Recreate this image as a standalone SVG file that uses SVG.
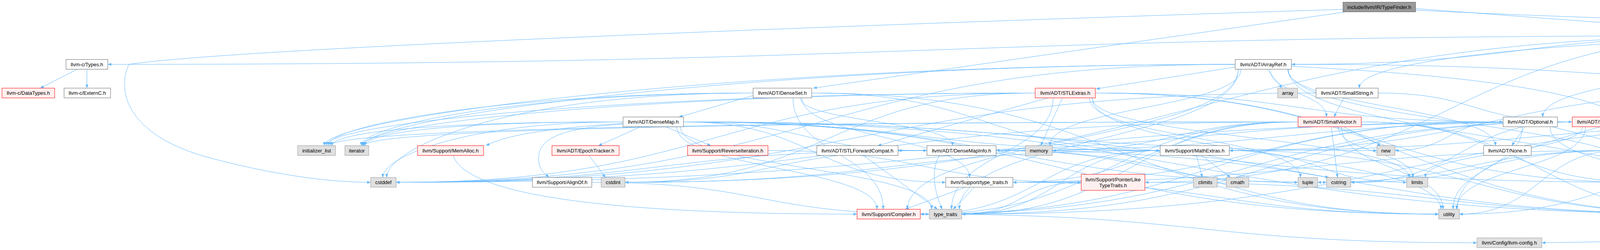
<svg xmlns="http://www.w3.org/2000/svg" width="5374" height="641" viewBox="0 0 5374 641">
<defs>
<marker id="a" viewBox="0 0 10 10" refX="10" refY="5" markerWidth="10" markerHeight="9" markerUnits="userSpaceOnUse" orient="auto">
<path d="M0,1 L10,5 L0,9 z" fill="#63b8ff"/>
</marker>
<style>
.e path{fill:none;stroke:#63b8ff;stroke-width:1;marker-end:url(#a)}
.nw rect{fill:#ffffff;stroke:#666666;stroke-width:1}
.ng rect{fill:#e0e0e0;stroke:#999999;stroke-width:1}
.nr rect{fill:#fff0f0;stroke:#ff0000;stroke-width:1}
.nt rect{fill:#999999;stroke:#666666;stroke-width:1}
text{font-family:"Liberation Sans",Arial,sans-serif;font-size:13px;text-anchor:middle;fill:#000000}
</style>
</defs>
<rect x="0" y="0" width="5374" height="641" fill="#ffffff"/>
<g id="edges" class="e">
<path d="M3445,30.5 L2082,226"/>
<path d="M3624,22 L4492,87"/>
<path d="M3438,24 C2000,70 600,125 330,165 C300,230 320,340 520,400 C720,455 860,467 949,467.5"/>
<path d="M3624,26 C4300,60 4900,60 5060,85 C5200,115 5248,180 5248,226"/>
<path d="M4492,91.5 C2384,91.5 2384,165 276,165"/>
<path d="M4492,91.5 C3899,91.5 3899,165 3306,165"/>
<path d="M4586,104 C4586,202 4816,202 4816,300"/>
<path d="M4500,104 C4500,202 3949.5,202 3949.5,300"/>
<path d="M4492,95 C4010,110 3480,150 3480,226"/>
<path d="M4513,104 C4513,202 4121,202 4121,300"/>
<path d="M4626,95 C5330,110 5365,250 5365,420 C5365,600 4400,615 3947,622.5"/>
<path d="M4560,104 L4567,226"/>
<path d="M4590,104 L4715,152.5"/>
<path d="M4492,91.5 C3711.5,91.5 3711.5,467.5 2931,467.5"/>
<path d="M4600,104 L4870,152.5"/>
<path d="M4612,104 L4945,152.5"/>
<path d="M4626,100 L5010,152.5"/>
<path d="M4545.5,104 C4545.5,320 4431,320 4431,536.5"/>
<path d="M4492,91.5 C3046,91.5 3046,467.5 1600,467.5"/>
<path d="M4626,98 C5000,115 5110,200 5110,330 C5110,430 4800,467.5 4628,467.5"/>
<path d="M4500,104 C4500,320 3730,320 3730,536.5"/>
<path d="M198,177.5 L103,226"/>
<path d="M222.5,177.5 L222.5,226"/>
<path d="M3306,170 C3900,200 4214,260 4214,373.5"/>
<path d="M3296.5,177.5 C3296.5,275.5 3828,275.5 3828,373.5"/>
<path d="M3251,177.5 C3251,238.75 3395.5,238.75 3395.5,300"/>
<path d="M3162,172 L2806,228"/>
<path d="M3170,177.5 C3170,357 2323,357 2323,536.5"/>
<path d="M3298,177.5 C3298,316 4217,316 4217,455"/>
<path d="M3244,177.5 L3282,226"/>
<path d="M3298,177.5 C3298,357 4398,357 4398,536.5"/>
<path d="M3162,165 C2088,165 2088,467.5 1014,467.5"/>
<path d="M3162,165 C1900,165 830,300 830,373.5"/>
<path d="M3162,165 C1950,165 930,300 930,373.5"/>
<path d="M3177,177.5 C3177,275.5 2688,275.5 2688,373.5"/>
<path d="M3170,177.5 C3170,357 2456,357 2456,536.5"/>
<path d="M3306,165 C4264,165 4264,238.5 5222,238.5"/>
<path d="M1928,245 L1738,300"/>
<path d="M2049,251 C2049,312 2438.5,312 2438.5,373.5"/>
<path d="M2078,238.5 C2524,238.5 2524,386 2970,386"/>
<path d="M2053,251 C2053,353 2482,353 2482,455"/>
<path d="M2030,251 C2030,394 2261,394 2261,536.5"/>
<path d="M1928,238.5 C1300,238.5 840,320 840,373.5"/>
<path d="M1928,238.5 C1350,238.5 925,320 925,373.5"/>
<path d="M2078,238.5 C2880.5,238.5 2880.5,549 3683,549"/>
<path d="M1928,238.5 C1300,238.5 990,380 990,455"/>
<path d="M2804,238.5 C3326,238.5 3326,312.5 3848,312.5"/>
<path d="M2683,251 L2247,373.5"/>
<path d="M2804,238.5 C3507.5,238.5 3507.5,467.5 4211,467.5"/>
<path d="M2804,238.5 C3598,238.5 3598,549 4392,549"/>
<path d="M2650,238.5 C1832,238.5 1832,467.5 1014,467.5"/>
<path d="M2650,238.5 C2125,238.5 2125,467.5 1600,467.5"/>
<path d="M2650,238.5 C1700,238.5 835,310 835,373.5"/>
<path d="M2650,238.5 C1750,238.5 928,310 928,373.5"/>
<path d="M2796,251 C2796,353 3607,353 3607,455"/>
<path d="M2720,251 L2664,373.5"/>
<path d="M2789,251 C2789,353 3329,353 3329,455"/>
<path d="M2696,251 C2696,394 2436,394 2436,536.5"/>
<path d="M2796,251 C2796,394 3689,394 3689,536.5"/>
<path d="M3440,251 L3415,300"/>
<path d="M3528,238.5 C3776.5,238.5 3776.5,312.5 4025,312.5"/>
<path d="M3369,238.5 C2191.5,238.5 2191.5,467.5 1014,467.5"/>
<path d="M1750,312.5 C2061.5,312.5 2061.5,386 2373,386"/>
<path d="M1640,325 L1532,373.5"/>
<path d="M1595,318 C1420,330 1370,360 1380,420 C1385,440 1400,450 1405,455"/>
<path d="M1732.5,325 C1732.5,431 2245,431 2245,536.5"/>
<path d="M1750,312.5 C2360,312.5 2360,386 2970,386"/>
<path d="M1595,316 C1400,330 1300,345 1244,373.5"/>
<path d="M1704,325 L1820,373.5"/>
<path d="M1750,312.5 C2085.5,312.5 2085.5,467.5 2421,467.5"/>
<path d="M1750,312.5 C2980.5,312.5 2980.5,467.5 4211,467.5"/>
<path d="M1750,312.5 C3071,312.5 3071,549 4392,549"/>
<path d="M1595,312.5 C1200,312.5 980,400 980,455"/>
<path d="M1750,312.5 C2573,312.5 2573,467.5 3396,467.5"/>
<path d="M1595,312.5 C1100,312.5 850,340 850,373.5"/>
<path d="M1595,312.5 C1150,312.5 935,340 935,373.5"/>
<path d="M1750,312.5 C2637.5,312.5 2637.5,386 3525,386"/>
<path d="M1742,325 C1742,431 2385,431 2385,536.5"/>
<path d="M1750,312.5 C2716.5,312.5 2716.5,549 3683,549"/>
<path d="M3323,312.5 C2839.5,312.5 2839.5,549 2356,549"/>
<path d="M3323,312.5 C2958,312.5 2958,467.5 2593,467.5"/>
<path d="M3485,312.5 C3848,312.5 3848,467.5 4211,467.5"/>
<path d="M3485,312.5 C3938.5,312.5 3938.5,549 4392,549"/>
<path d="M3323,312.5 C2168.5,312.5 2168.5,467.5 1014,467.5"/>
<path d="M3408,325 L3424,455"/>
<path d="M3323,312.5 C2000,312.5 845,330 845,373.5"/>
<path d="M3323,312.5 C2050,312.5 932,330 932,373.5"/>
<path d="M3426,325 C3426,390 3617,390 3617,455"/>
<path d="M3323,312.5 C3008.5,312.5 3008.5,386 2694,386"/>
<path d="M3440,325 L3535,373.5"/>
<path d="M3323,312.5 C2892.5,312.5 2892.5,549 2462,549"/>
<path d="M3434.5,325 C3434.5,431 3694,431 3694,536.5"/>
<path d="M3973,325 L4166,373.5"/>
<path d="M3904,325 L3870,373.5"/>
<path d="M3848,312.5 C3073.5,312.5 3073.5,386 2299,386"/>
<path d="M3848,312.5 C3102,312.5 3102,549 2356,549"/>
<path d="M3848,312.5 C3220.5,312.5 3220.5,467.5 2593,467.5"/>
<path d="M3968,325 C3968,431 4399.5,431 4399.5,536.5"/>
<path d="M3848,312.5 C3709.5,312.5 3709.5,386 3571,386"/>
<path d="M3897,325 C3897,431 3720,431 3720,536.5"/>
<path d="M4025,312.5 C3287.5,312.5 3287.5,386 2550,386"/>
<path d="M4025,312.5 C3190.5,312.5 3190.5,549 2356,549"/>
<path d="M4113,325 C4113,390 4240.5,390 4240.5,455"/>
<path d="M4131,325 C4131,431 4408,431 4408,536.5"/>
<path d="M4025,312.5 C2519.5,312.5 2519.5,467.5 1014,467.5"/>
<path d="M4025,312.5 C3741.5,312.5 3741.5,467.5 3458,467.5"/>
<path d="M4051,325 C4051,390 3649,390 3649,455"/>
<path d="M4148,325 C4148,390 4581,390 4581,455"/>
<path d="M4025,312.5 C3243.5,312.5 3243.5,549 2462,549"/>
<path d="M4059,325 C4059,431 3729,431 3729,536.5"/>
<path d="M4743,312.5 C3945,312.5 3945,386 3147,386"/>
<path d="M4789,325 C4789,431 4444.5,431 4444.5,536.5"/>
<path d="M4743,312.5 C3602.5,312.5 3602.5,549 2462,549"/>
<path d="M4743,312.5 C4239.5,312.5 4239.5,549 3736,549"/>
<path d="M4484,238.5 C3815.5,238.5 3815.5,386 3147,386"/>
<path d="M4554,251 C4554,394 4431.5,394 4431.5,536.5"/>
<path d="M4571,251 C4571,353 4600,353 4600,455"/>
<path d="M1160,398.5 C1200,520 1700,549 2194,549"/>
<path d="M1508,398.5 L1550,455"/>
<path d="M1966,386 C2367,386 2367,467.5 2768,467.5"/>
<path d="M2210,398.5 L2400,536.5"/>
<path d="M2550,386 C3471,386 3471,549 4392,549"/>
<path d="M2373,386 C1693.5,386 1693.5,467.5 1014,467.5"/>
<path d="M2373,386 C1986.5,386 1986.5,467.5 1600,467.5"/>
<path d="M2550,386 C2936.5,386 2936.5,467.5 3323,467.5"/>
<path d="M2405,398.5 C2380,440 2395,500 2412,536.5"/>
<path d="M2550,386 C3116.5,386 3116.5,549 3683,549"/>
<path d="M2970,386 C2663,386 2663,549 2356,549"/>
<path d="M3147,386 C3769.5,386 3769.5,549 4392,549"/>
<path d="M3063,398.5 L3078,455"/>
<path d="M3076,398.5 L3150,455"/>
<path d="M2970,386 C2285,386 2285,467.5 1600,467.5"/>
<path d="M3090,398.5 L3402,455"/>
<path d="M3147,386 C3374,386 3374,467.5 3601,467.5"/>
<path d="M2970,386 C2716,386 2716,549 2462,549"/>
<path d="M4147,386 C3370,386 3370,467.5 2593,467.5"/>
<path d="M4223,398.5 L4240,455"/>
<path d="M4208,398.5 C4190,500 4300,549 4392,549"/>
<path d="M4147,386 C3802.5,386 3802.5,467.5 3458,467.5"/>
<path d="M4286,386 C4430.5,386 4430.5,467.5 4575,467.5"/>
<path d="M4147,386 C3760,386 3760,467.5 3373,467.5"/>
<path d="M4147,386 C3941.5,386 3941.5,549 3736,549"/>
<path d="M1515,467.5 C1947,467.5 1947,549 2379,549"/>
<path d="M2472,480 L2317,536.5"/>
<path d="M2495,480 L2440,536.5"/>
<path d="M2593,467.5 C3138,467.5 3138,549 3683,549"/>
<path d="M2931,467.5 C3661.5,467.5 3661.5,549 4392,549"/>
<path d="M2768,467.5 C2615,467.5 2615,549 2462,549"/>
<path d="M2356,549 C3068.5,549 3068.5,622.5 3781,622.5"/>
</g>
<g id="n0" class="nt"><rect x="3438" y="5.5" width="186" height="25"/><text x="3531" y="22.5">include/llvm/IR/TypeFinder.h</text></g>
<g id="n1" class="nw"><rect x="4492" y="79" width="134" height="25"/><text x="4559" y="96">llvm/IR/Attributes.h</text></g>
<g id="n2" class="nw"><rect x="169" y="152.5" width="107" height="25"/><text x="222.5" y="169.5">llvm-c/Types.h</text></g>
<g id="n3" class="nr"><rect x="5" y="226" width="135" height="25"/><text x="72.5" y="243">llvm-c/DataTypes.h</text></g>
<g id="n4" class="nw"><rect x="164" y="226" width="119" height="25"/><text x="223.5" y="243">llvm-c/ExternC.h</text></g>
<g id="n5" class="nw"><rect x="3162" y="152.5" width="144" height="25"/><text x="3234" y="169.5">llvm/ADT/ArrayRef.h</text></g>
<g id="n6" class="nw"><rect x="4673" y="152.5" width="164" height="25"/><text x="4755" y="169.5">llvm/Support/CodeGen.h</text></g>
<g id="n7" class="ng"><rect x="4861" y="152.5" width="54" height="25"/><text x="4888" y="169.5">bitset</text></g>
<g id="n8" class="ng"><rect x="4939" y="152.5" width="40" height="25"/><text x="4959" y="169.5">set</text></g>
<g id="n9" class="ng"><rect x="5003" y="152.5" width="144" height="25"/><text x="5075" y="169.5">llvm/IR/Attributes.inc</text></g>
<g id="n10" class="nw"><rect x="1928" y="226" width="150" height="25"/><text x="2003" y="243">llvm/ADT/DenseSet.h</text></g>
<g id="n11" class="nr"><rect x="2650" y="226" width="154" height="25"/><text x="2727" y="243">llvm/ADT/STLExtras.h</text></g>
<g id="n12" class="ng"><rect x="3271" y="226" width="51" height="25"/><text x="3296.5" y="243">array</text></g>
<g id="n13" class="nw"><rect x="3369" y="226" width="159" height="25"/><text x="3448.5" y="243">llvm/ADT/SmallString.h</text></g>
<g id="n14" class="nw"><rect x="4484" y="226" width="168" height="25"/><text x="4568" y="243">llvm/Support/Alignment.h</text></g>
<g id="n15" class="ng"><rect x="5222" y="226" width="58" height="25"/><text x="5251" y="243">vector</text></g>
<g id="n16" class="nw"><rect x="1595" y="300" width="155" height="25"/><text x="1672.5" y="317">llvm/ADT/DenseMap.h</text></g>
<g id="n17" class="nr"><rect x="3323" y="300" width="162" height="25"/><text x="3404" y="317">llvm/ADT/SmallVector.h</text></g>
<g id="n18" class="nw"><rect x="3848" y="300" width="139" height="25"/><text x="3917.5" y="317">llvm/ADT/Optional.h</text></g>
<g id="n19" class="nr"><rect x="4025" y="300" width="146" height="25"/><text x="4098" y="317">llvm/ADT/StringRef.h</text></g>
<g id="n20" class="nw"><rect x="4743" y="300" width="173" height="25"/><text x="4829.5" y="317">llvm/ADT/BitmaskEnum.h</text></g>
<g id="n21" class="ng"><rect x="762" y="373.5" width="97" height="25"/><text x="810.5" y="390.5">initializer_list</text></g>
<g id="n22" class="ng"><rect x="883" y="373.5" width="61" height="25"/><text x="913.5" y="390.5">iterator</text></g>
<g id="n23" class="nr"><rect x="1069" y="373.5" width="169" height="25"/><text x="1153.5" y="390.5">llvm/Support/MemAlloc.h</text></g>
<g id="n24" class="nr"><rect x="1413" y="373.5" width="172" height="25"/><text x="1499" y="390.5">llvm/ADT/EpochTracker.h</text></g>
<g id="n25" class="nr"><rect x="1760" y="373.5" width="206" height="25"/><text x="1863" y="390.5">llvm/Support/ReverseIteration.h</text></g>
<g id="n26" class="nw"><rect x="2091" y="373.5" width="208" height="25"/><text x="2195" y="390.5">llvm/ADT/STLForwardCompat.h</text></g>
<g id="n27" class="nw"><rect x="2373" y="373.5" width="177" height="25"/><text x="2461.5" y="390.5">llvm/ADT/DenseMapInfo.h</text></g>
<g id="n28" class="ng"><rect x="2625" y="373.5" width="69" height="25"/><text x="2659.5" y="390.5">memory</text></g>
<g id="n29" class="nw"><rect x="2970" y="373.5" width="177" height="25"/><text x="3058.5" y="390.5">llvm/Support/MathExtras.h</text></g>
<g id="n30" class="ng"><rect x="3525" y="373.5" width="46" height="25"/><text x="3548" y="390.5">new</text></g>
<g id="n31" class="nw"><rect x="3798" y="373.5" width="122" height="25"/><text x="3859" y="390.5">llvm/ADT/None.h</text></g>
<g id="n32" class="nr"><rect x="4147" y="373.5" width="139" height="25"/><text x="4216.5" y="390.5">llvm/ADT/Hashing.h</text></g>
<g id="n33" class="ng"><rect x="949" y="455" width="65" height="25"/><text x="981.5" y="472">cstddef</text></g>
<g id="n34" class="nw"><rect x="1363" y="455" width="152" height="25"/><text x="1439" y="472">llvm/Support/AlignOf.h</text></g>
<g id="n35" class="ng"><rect x="1539" y="455" width="61" height="25"/><text x="1569.5" y="472">cstdint</text></g>
<g id="n36" class="nw"><rect x="2421" y="455" width="172" height="25"/><text x="2507" y="472">llvm/Support/type_traits.h</text></g>
<g id="n37" class="nr"><rect x="2768" y="447" width="163" height="41"/><text x="2849.5" y="465">llvm/Support/PointerLike</text><text x="2849.5" y="480">TypeTraits.h</text></g>
<g id="n38" class="ng"><rect x="3055" y="455" width="61" height="25"/><text x="3085.5" y="472">climits</text></g>
<g id="n39" class="ng"><rect x="3139" y="455" width="58" height="25"/><text x="3168" y="472">cmath</text></g>
<g id="n40" class="ng"><rect x="3323" y="455" width="50" height="25"/><text x="3348" y="472">tuple</text></g>
<g id="n41" class="ng"><rect x="3396" y="455" width="62" height="25"/><text x="3427" y="472">cstring</text></g>
<g id="n42" class="ng"><rect x="3601" y="455" width="54" height="25"/><text x="3628" y="472">limits</text></g>
<g id="n43" class="ng"><rect x="4211" y="455" width="74" height="25"/><text x="4248" y="472">algorithm</text></g>
<g id="n44" class="ng"><rect x="4575" y="455" width="53" height="25"/><text x="4601.5" y="472">string</text></g>
<g id="n45" class="nr"><rect x="2194" y="536.5" width="162" height="25"/><text x="2275" y="553.5">llvm/Support/Compiler.h</text></g>
<g id="n46" class="ng"><rect x="2379" y="536.5" width="83" height="25"/><text x="2420.5" y="553.5">type_traits</text></g>
<g id="n47" class="ng"><rect x="3683" y="536.5" width="53" height="25"/><text x="3709.5" y="553.5">utility</text></g>
<g id="n48" class="ng"><rect x="4392" y="536.5" width="65" height="25"/><text x="4424.5" y="553.5">cassert</text></g>
<g id="n49" class="ng"><rect x="3781" y="610" width="166" height="25"/><text x="3864" y="627">llvm/Config/llvm-config.h</text></g>
</svg>
